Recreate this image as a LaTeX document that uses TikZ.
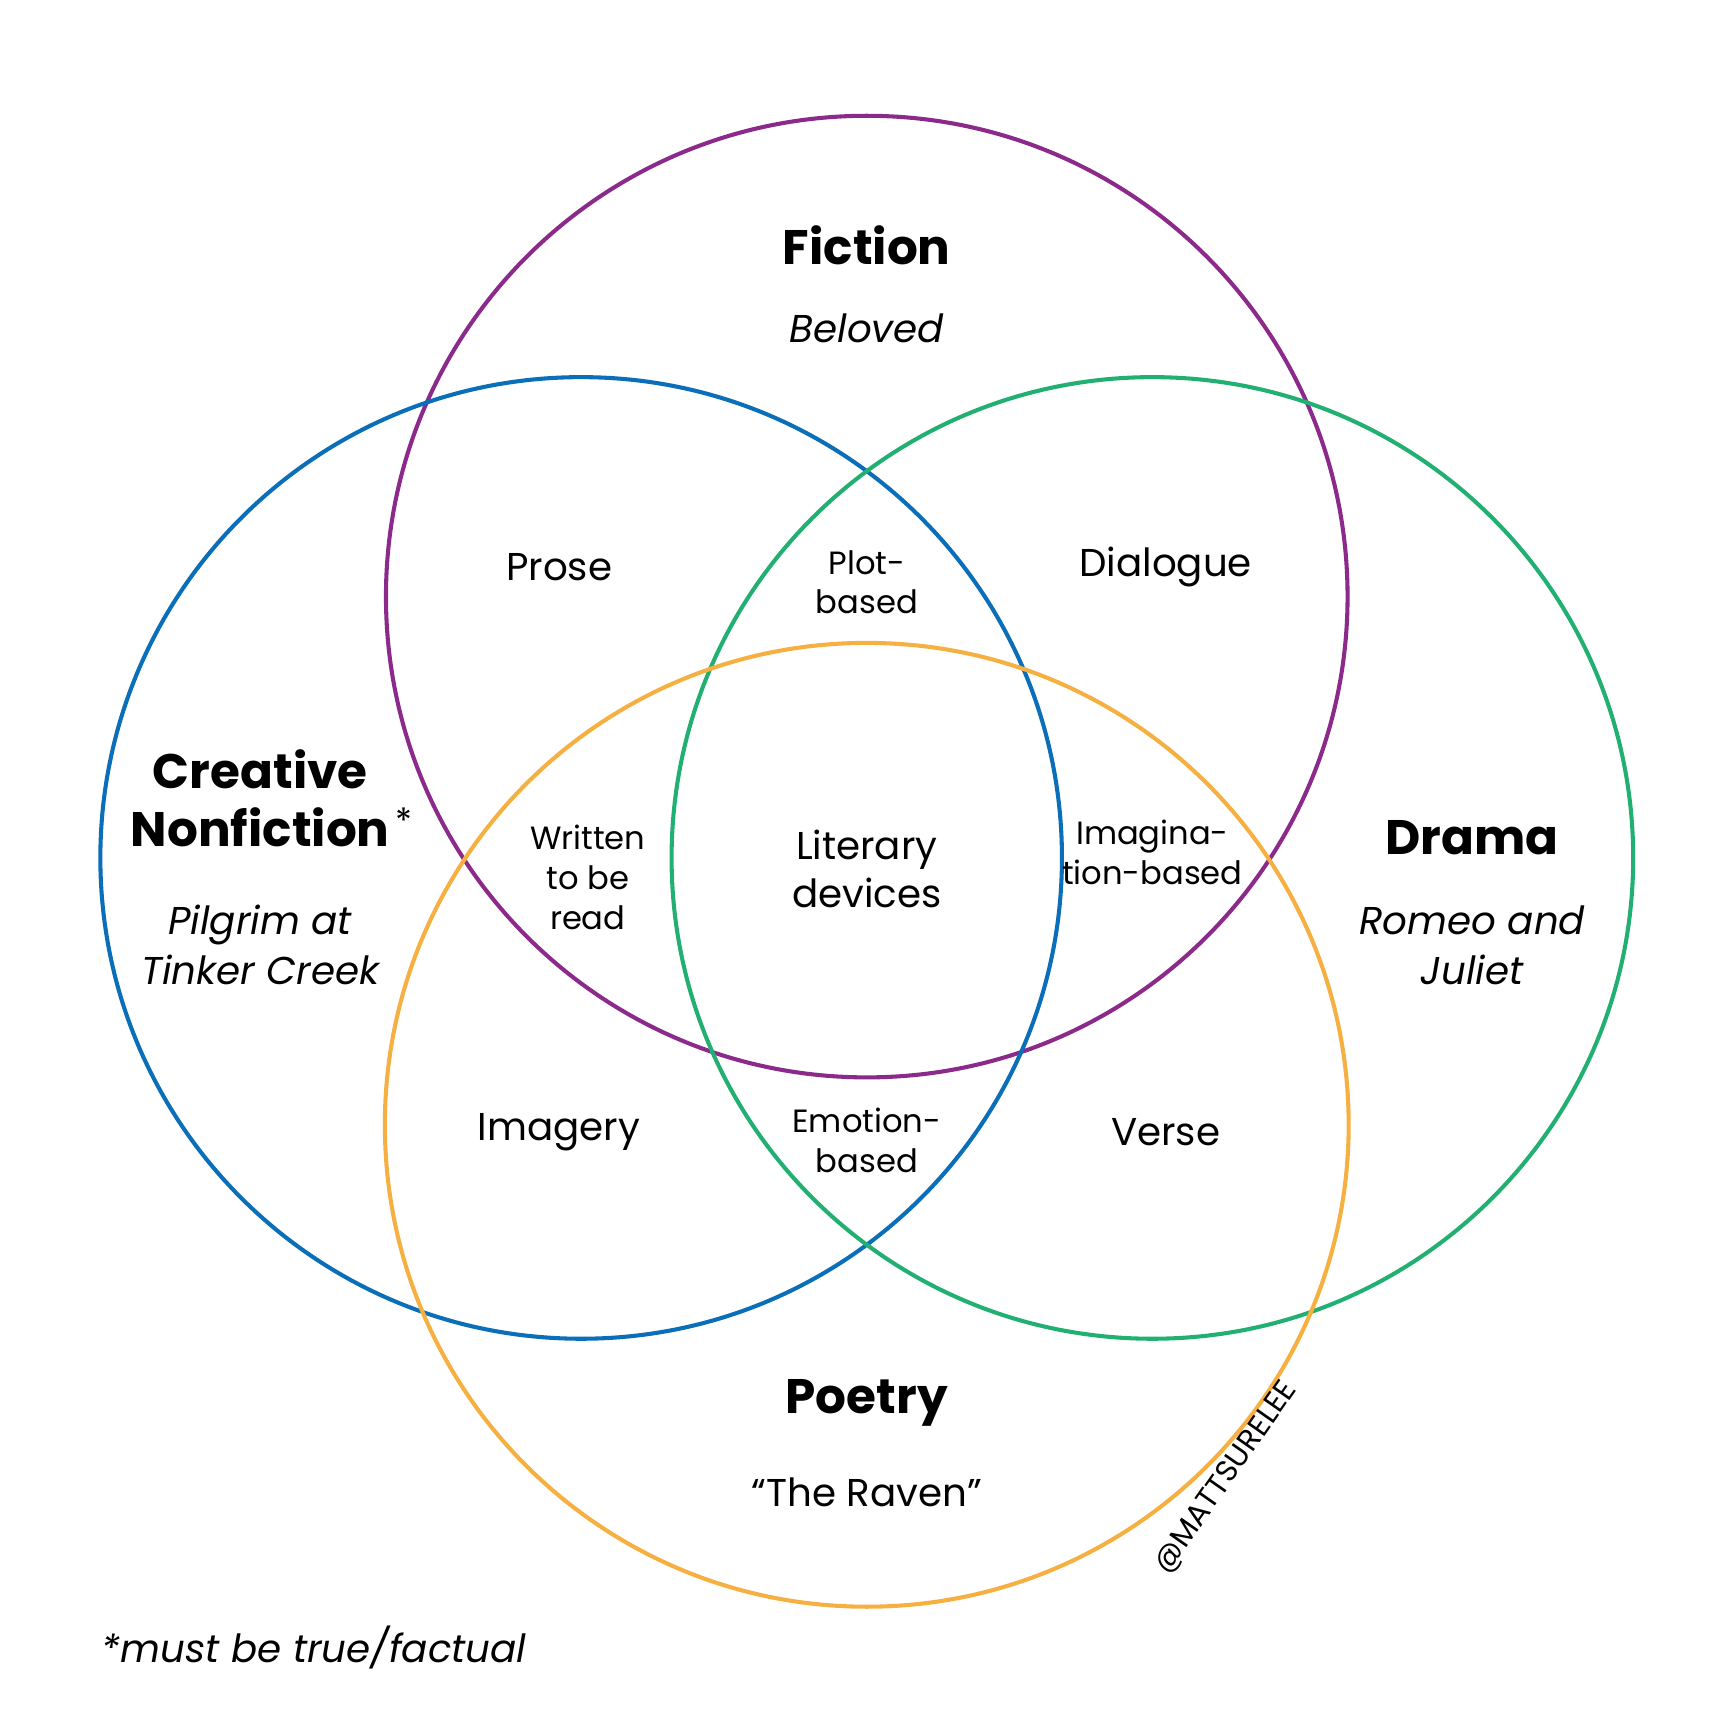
\documentclass[tikz,border=0pt]{standalone}
\usepackage{fontspec}
\setmainfont{Poppins}
\begin{document}
\begin{tikzpicture}[x=0.01cm,y=-0.01cm,
  circ/.style={line width=1.05pt},
  big/.style={font=\fontsize{12.5}{15}\selectfont\bfseries,align=center},
  ex/.style={font=\fontsize{10}{13}\selectfont\itshape,align=center},
  lab/.style={font=\fontsize{10}{12.5}\selectfont,align=center},
  sm/.style={font=\fontsize{8.3}{10.3}\selectfont,align=center}]
\useasboundingbox (0,0) rectangle (1567,1567);
\definecolor{cpur}{HTML}{8B2A8B}\definecolor{cblu}{HTML}{0A6EB8}
\definecolor{cgrn}{HTML}{22B072}\definecolor{cora}{HTML}{F5B041}
\draw[circ,cpur] (786,541) circle (436);
\draw[circ,cblu] (527,778) circle (436);
\draw[circ,cgrn] (1045,778) circle (436);
\draw[circ,cora] (786,1020) circle (437);
\node[big] (fic) at (786,222) {Fiction};
\node[ex] (bel) at (786,298) {Beloved};
\node[big] (cnf) at (236,724) {Creative\\Nonfiction\rlap{\raisebox{0.5ex}{\normalfont\fontsize{9}{9}\selectfont\,*}}};
\node[ex] (pil) at (236,857) {Pilgrim at\\Tinker Creek};
\node[big] (dra) at (1335,760) {Drama};
\node[ex] (rom) at (1335,857) {Romeo and\\Juliet};
\node[big] (poe) at (786,1272) {Poetry};
\node[lab] (rav) at (786,1353) {``The Raven''};
\node[lab] (pro) at (507,514) {Prose};
\node[lab] (dia) at (1057,514) {Dialogue};
\node[sm] (plot) at (786,528) {Plot-\\based};
\node[lab] (lit) at (786,788) {Literary\\devices};
\node[sm] (wri) at (533,796) {Written\\to be\\read};
\node[sm] (ima) at (1045,773) {Imagina-\\tion-based};
\node[lab] (img) at (507,1027) {Imagery};
\node[lab] (ver) at (1057,1027) {Verse};
\node[sm] (emo) at (786,1034) {Emotion-\\based};
\node[font=\fontsize{7.8}{9}\selectfont,rotate=55,inner sep=0pt] (mat) at (1112,1340) {@MATTSURELEE};
\node[ex,anchor=west] (note) at (80,1494) {*must be true/factual};
\end{tikzpicture}
\end{document}
